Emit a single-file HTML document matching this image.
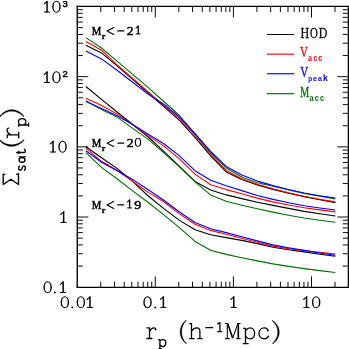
<!DOCTYPE html>
<html><head><meta charset="utf-8"><title>Sigma_sat(r_p)</title>
<style>html,body{margin:0;padding:0;background:#fff;}body{width:349px;height:349px;overflow:hidden;font-family:"Liberation Serif",serif;}svg{display:block;}</style>
</head><body>
<svg width="349" height="349" viewBox="0 0 349 349">
<rect width="349" height="349" fill="#fff"/>
<path d="M77.25 5.83V288.02000000000004M348.4 5.83V288.02000000000004" stroke="#000" stroke-width="1.35" fill="none"/>
<path d="M76.58 6.45H349.04999999999995" stroke="#000" stroke-width="1.25" fill="none"/>
<path d="M76.58 287.35H349.04999999999995" stroke="#000" stroke-width="1.35" fill="none"/>
<path d="M100.71 287.35v-5.6M100.71 6.45v5.6M114.46 287.35v-5.6M114.46 6.45v5.6M124.22 287.35v-5.6M124.22 6.45v5.6M131.79 287.35v-5.6M131.79 6.45v5.6M137.97 287.35v-5.6M137.97 6.45v5.6M143.20 287.35v-5.6M143.20 6.45v5.6M147.73 287.35v-5.6M147.73 6.45v5.6M151.73 287.35v-5.6M151.73 6.45v5.6M155.30 287.35v-11.0M155.30 6.45v11.0M178.81 287.35v-5.6M178.81 6.45v5.6M192.56 287.35v-5.6M192.56 6.45v5.6M202.32 287.35v-5.6M202.32 6.45v5.6M209.89 287.35v-5.6M209.89 6.45v5.6M216.07 287.35v-5.6M216.07 6.45v5.6M221.30 287.35v-5.6M221.30 6.45v5.6M225.83 287.35v-5.6M225.83 6.45v5.6M229.83 287.35v-5.6M229.83 6.45v5.6M233.40 287.35v-11.0M233.40 6.45v11.0M256.91 287.35v-5.6M256.91 6.45v5.6M270.66 287.35v-5.6M270.66 6.45v5.6M280.42 287.35v-5.6M280.42 6.45v5.6M287.99 287.35v-5.6M287.99 6.45v5.6M294.17 287.35v-5.6M294.17 6.45v5.6M299.40 287.35v-5.6M299.40 6.45v5.6M303.93 287.35v-5.6M303.93 6.45v5.6M307.93 287.35v-5.6M307.93 6.45v5.6M311.50 287.35v-11.0M311.50 6.45v11.0M335.01 287.35v-5.6M335.01 6.45v5.6M77.25 266.08h5.6M348.4 266.08h-5.6M77.25 253.72h5.6M348.4 253.72h-5.6M77.25 244.95h5.6M348.4 244.95h-5.6M77.25 238.15h5.6M348.4 238.15h-5.6M77.25 232.59h5.6M348.4 232.59h-5.6M77.25 227.90h5.6M348.4 227.90h-5.6M77.25 223.83h5.6M348.4 223.83h-5.6M77.25 220.24h5.6M348.4 220.24h-5.6M77.25 217.02h11.0M348.4 217.02h-11.0M77.25 195.90h5.6M348.4 195.90h-5.6M77.25 183.54h5.6M348.4 183.54h-5.6M77.25 174.78h5.6M348.4 174.78h-5.6M77.25 167.97h5.6M348.4 167.97h-5.6M77.25 162.42h5.6M348.4 162.42h-5.6M77.25 157.72h5.6M348.4 157.72h-5.6M77.25 153.65h5.6M348.4 153.65h-5.6M77.25 150.06h5.6M348.4 150.06h-5.6M77.25 146.85h11.0M348.4 146.85h-11.0M77.25 125.73h5.6M348.4 125.73h-5.6M77.25 113.37h5.6M348.4 113.37h-5.6M77.25 104.60h5.6M348.4 104.60h-5.6M77.25 97.80h5.6M348.4 97.80h-5.6M77.25 92.24h5.6M348.4 92.24h-5.6M77.25 87.55h5.6M348.4 87.55h-5.6M77.25 83.48h5.6M348.4 83.48h-5.6M77.25 79.89h5.6M348.4 79.89h-5.6M77.25 76.68h11.0M348.4 76.68h-11.0M77.25 55.55h5.6M348.4 55.55h-5.6M77.25 43.19h5.6M348.4 43.19h-5.6M77.25 34.43h5.6M348.4 34.43h-5.6M77.25 27.62h5.6M348.4 27.62h-5.6M77.25 22.07h5.6M348.4 22.07h-5.6M77.25 17.37h5.6M348.4 17.37h-5.6M77.25 13.30h5.6M348.4 13.30h-5.6M77.25 9.71h5.6M348.4 9.71h-5.6" stroke="#000" stroke-width="0.95" fill="none"/>
<polyline points="85.90,45.30 101.49,52.90 117.08,65.80 132.67,79.40 148.26,93.00 163.85,106.60 179.44,120.40 195.03,137.40 210.62,155.90 226.21,171.90 241.80,179.60 257.39,185.00 272.98,189.40 288.57,193.20 304.16,196.70 319.75,199.80 335.34,202.60" fill="none" stroke="#000000" stroke-width="1.1" stroke-linejoin="round"/>
<polyline points="85.90,41.40 101.49,50.20 117.08,64.80 132.67,78.40 148.26,91.90 163.85,105.40 179.44,118.70 195.03,135.20 210.62,153.90 226.21,170.40 241.80,178.80 257.39,184.20 272.98,188.70 288.57,192.70 304.16,196.20 319.75,199.20 335.34,201.90" fill="none" stroke="#ff0000" stroke-width="1.1" stroke-linejoin="round"/>
<polyline points="85.90,37.60 101.49,48.00 117.08,61.10 132.67,74.40 148.26,87.60 163.85,101.50 179.44,115.50 195.03,133.90 210.62,152.40 226.21,167.90 241.80,176.90 257.39,182.70 272.98,186.30 288.57,190.00 304.16,193.40 319.75,196.30 335.34,199.00" fill="none" stroke="#007000" stroke-width="1.1" stroke-linejoin="round"/>
<polyline points="85.90,50.90 101.49,58.90 117.08,70.20 132.67,82.30 148.26,94.40 163.85,104.20 179.44,117.00 195.03,133.60 210.62,151.40 226.21,166.40 241.80,174.90 257.39,181.10 272.98,185.60 288.57,189.50 304.16,193.00 319.75,195.70 335.34,198.10" fill="none" stroke="#0000ff" stroke-width="1.1" stroke-linejoin="round"/>
<polyline points="85.90,86.50 101.49,99.40 117.08,112.00 132.67,124.50 148.26,137.00 163.85,151.40 179.44,166.40 195.03,181.40 210.62,189.90 226.21,194.90 241.80,198.60 257.39,202.30 272.98,205.40 288.57,208.40 304.16,211.40 319.75,213.80 335.34,216.00" fill="none" stroke="#000000" stroke-width="1.1" stroke-linejoin="round"/>
<polyline points="85.90,98.20 101.49,105.40 117.08,113.90 132.67,124.90 148.26,135.60 163.85,146.10 179.44,158.90 195.03,174.10 210.62,184.70 226.21,189.60 241.80,193.70 257.39,198.10 272.98,201.90 288.57,205.00 304.16,207.70 319.75,209.90 335.34,211.90" fill="none" stroke="#ff0000" stroke-width="1.1" stroke-linejoin="round"/>
<polyline points="85.90,100.80 101.49,109.40 117.08,117.10 132.67,128.40 148.26,139.40 163.85,152.90 179.44,166.90 195.03,181.90 210.62,194.90 226.21,201.30 241.80,205.20 257.39,208.70 272.98,212.10 288.57,215.20 304.16,218.00 319.75,220.20 335.34,222.20" fill="none" stroke="#007000" stroke-width="1.1" stroke-linejoin="round"/>
<polyline points="85.90,101.40 101.49,108.60 117.08,115.70 132.67,124.40 148.26,134.30 163.85,143.80 179.44,155.90 195.03,170.70 210.62,180.20 226.21,185.80 241.80,190.60 257.39,195.50 272.98,199.40 288.57,202.70 304.16,205.70 319.75,208.00 335.34,210.00" fill="none" stroke="#0000ff" stroke-width="1.1" stroke-linejoin="round"/>
<polyline points="85.90,146.70 101.49,157.80 117.08,168.40 132.67,181.40 148.26,196.00 163.85,208.60 179.44,220.40 195.03,229.80 210.62,234.70 226.21,237.60 241.80,240.40 257.39,243.60 272.98,247.20 288.57,249.70 304.16,251.90 319.75,254.20 335.34,256.20" fill="none" stroke="#000000" stroke-width="1.1" stroke-linejoin="round"/>
<polyline points="85.90,148.10 101.49,161.30 117.08,170.30 132.67,181.30 148.26,192.40 163.85,201.70 179.44,213.90 195.03,224.30 210.62,230.40 226.21,234.20 241.80,238.20 257.39,242.20 272.98,246.10 288.57,248.60 304.16,250.60 319.75,252.40 335.34,254.10" fill="none" stroke="#ff0000" stroke-width="1.1" stroke-linejoin="round"/>
<polyline points="85.90,152.70 101.49,167.40 117.08,178.80 132.67,190.90 148.26,202.50 163.85,214.90 179.44,227.60 195.03,241.40 210.62,250.20 226.21,254.40 241.80,257.70 257.39,260.90 272.98,263.90 288.57,266.40 304.16,268.60 319.75,270.60 335.34,272.50" fill="none" stroke="#007000" stroke-width="1.1" stroke-linejoin="round"/>
<polyline points="85.90,150.70 101.49,162.20 117.08,170.70 132.67,179.40 148.26,189.70 163.85,200.30 179.44,212.00 195.03,222.50 210.62,228.70 226.21,232.60 241.80,236.70 257.39,240.90 272.98,244.90 288.57,247.80 304.16,250.40 319.75,253.00 335.34,255.30" fill="none" stroke="#0000ff" stroke-width="1.1" stroke-linejoin="round"/>
<path d="M267 34.5H294.1" stroke="#000000" stroke-width="1.0"/>
<path d="M267 54.2H294.1" stroke="#ff0000" stroke-width="1.1"/>
<path d="M267 73.75H294.1" stroke="#0000ff" stroke-width="1.15"/>
<path d="M267 93.7H294.1" stroke="#007000" stroke-width="1.2"/>
<g opacity="0.999">
<path d="M47.05 1.00V12.40" fill="none" stroke="#000" stroke-width="1.50"/><path d="M44.30 3.90L47.15 1.50" fill="none" stroke="#000" stroke-width="1.15" stroke-linecap="round"/><path d="M44.35 12.00H49.65" fill="none" stroke="#000" stroke-width="1.0" stroke-linecap="round"/>
<path fill-rule="evenodd" fill="#000" d="M52.20 6.80A4.25 6.05 0 1 0 60.70 6.80A4.25 6.05 0 1 0 52.20 6.80ZM53.60 6.80A2.85 5.05 0 1 0 59.30 6.80A2.85 5.05 0 1 0 53.60 6.80Z"/>
<path d="M47.05 71.50V82.90" fill="none" stroke="#000" stroke-width="1.50"/><path d="M44.30 74.40L47.15 72.00" fill="none" stroke="#000" stroke-width="1.15" stroke-linecap="round"/><path d="M44.35 82.50H49.65" fill="none" stroke="#000" stroke-width="1.0" stroke-linecap="round"/>
<path fill-rule="evenodd" fill="#000" d="M52.20 77.30A4.25 6.05 0 1 0 60.70 77.30A4.25 6.05 0 1 0 52.20 77.30ZM53.60 77.30A2.85 5.05 0 1 0 59.30 77.30A2.85 5.05 0 1 0 53.60 77.30Z"/>
<text transform="matrix(0.0955,0,0,0.0947,62.600,7.205)" font-family="Liberation Sans" font-weight="normal" font-size="100" fill="#000" stroke="#000" stroke-width="5.26">3</text>
<text transform="matrix(0.0955,0,0,0.0961,62.600,77.200)" font-family="Liberation Sans" font-weight="normal" font-size="100" fill="#000" stroke="#000" stroke-width="5.22">2</text>
<path d="M53.05 141.00V152.40" fill="none" stroke="#000" stroke-width="1.50"/><path d="M50.30 143.90L53.15 141.50" fill="none" stroke="#000" stroke-width="1.15" stroke-linecap="round"/><path d="M50.35 152.00H55.65" fill="none" stroke="#000" stroke-width="1.0" stroke-linecap="round"/>
<path fill-rule="evenodd" fill="#000" d="M58.30 146.80A4.25 6.05 0 1 0 66.80 146.80A4.25 6.05 0 1 0 58.30 146.80ZM59.70 146.80A2.85 5.05 0 1 0 65.40 146.80A2.85 5.05 0 1 0 59.70 146.80Z"/>
<path d="M63.65 211.40V222.80" fill="none" stroke="#000" stroke-width="1.50"/><path d="M60.90 214.30L63.75 211.90" fill="none" stroke="#000" stroke-width="1.15" stroke-linecap="round"/><path d="M60.95 222.40H66.25" fill="none" stroke="#000" stroke-width="1.0" stroke-linecap="round"/>
<path fill-rule="evenodd" fill="#000" d="M43.40 287.30A4.25 6.05 0 1 0 51.90 287.30A4.25 6.05 0 1 0 43.40 287.30ZM44.80 287.30A2.85 5.05 0 1 0 50.50 287.30A2.85 5.05 0 1 0 44.80 287.30Z"/>
<circle cx="54.9" cy="292.50" r="0.95" fill="#000"/>
<path d="M63.15 281.50V292.90" fill="none" stroke="#000" stroke-width="1.50"/><path d="M60.40 284.40L63.25 282.00" fill="none" stroke="#000" stroke-width="1.15" stroke-linecap="round"/><path d="M60.45 292.50H65.75" fill="none" stroke="#000" stroke-width="1.0" stroke-linecap="round"/>
<path fill-rule="evenodd" fill="#000" d="M60.60 302.20A4.25 6.05 0 1 0 69.10 302.20A4.25 6.05 0 1 0 60.60 302.20ZM62.00 302.20A2.85 5.05 0 1 0 67.70 302.20A2.85 5.05 0 1 0 62.00 302.20Z"/>
<circle cx="72.3" cy="307.40" r="0.95" fill="#000"/>
<path fill-rule="evenodd" fill="#000" d="M76.60 302.20A4.25 6.05 0 1 0 85.10 302.20A4.25 6.05 0 1 0 76.60 302.20ZM78.00 302.20A2.85 5.05 0 1 0 83.70 302.20A2.85 5.05 0 1 0 78.00 302.20Z"/>
<path d="M89.95 296.40V307.80" fill="none" stroke="#000" stroke-width="1.50"/><path d="M87.20 299.30L90.05 296.90" fill="none" stroke="#000" stroke-width="1.15" stroke-linecap="round"/><path d="M87.25 307.40H92.55" fill="none" stroke="#000" stroke-width="1.0" stroke-linecap="round"/>
<path fill-rule="evenodd" fill="#000" d="M143.30 302.20A4.25 6.05 0 1 0 151.80 302.20A4.25 6.05 0 1 0 143.30 302.20ZM144.70 302.20A2.85 5.05 0 1 0 150.40 302.20A2.85 5.05 0 1 0 144.70 302.20Z"/>
<circle cx="155.25" cy="307.40" r="0.95" fill="#000"/>
<path d="M163.35 296.40V307.80" fill="none" stroke="#000" stroke-width="1.50"/><path d="M160.60 299.30L163.45 296.90" fill="none" stroke="#000" stroke-width="1.15" stroke-linecap="round"/><path d="M160.65 307.40H165.95" fill="none" stroke="#000" stroke-width="1.0" stroke-linecap="round"/>
<path d="M233.75 296.40V307.80" fill="none" stroke="#000" stroke-width="1.50"/><path d="M231.00 299.30L233.85 296.90" fill="none" stroke="#000" stroke-width="1.15" stroke-linecap="round"/><path d="M231.05 307.40H236.35" fill="none" stroke="#000" stroke-width="1.0" stroke-linecap="round"/>
<path d="M306.55 296.40V307.80" fill="none" stroke="#000" stroke-width="1.50"/><path d="M303.80 299.30L306.65 296.90" fill="none" stroke="#000" stroke-width="1.15" stroke-linecap="round"/><path d="M303.85 307.40H309.15" fill="none" stroke="#000" stroke-width="1.0" stroke-linecap="round"/>
<path fill-rule="evenodd" fill="#000" d="M311.90 302.20A4.25 6.05 0 1 0 320.40 302.20A4.25 6.05 0 1 0 311.90 302.20ZM313.30 302.20A2.85 5.05 0 1 0 319.00 302.20A2.85 5.05 0 1 0 313.30 302.20Z"/>
<path d="M146.4 327.9H149.5V338.5M146.4 338.5H152.4M149.6 331.4C150.5 329.4 152.4 327.7 154.1 327.8C155.3 327.9 155.9 328.7 155.7 329.6" fill="none" stroke="#000" stroke-width="1.3" stroke-linecap="butt" stroke-linejoin="round"/>
<path d="M158.2 339.7H159.9V349M158.2 349H162M160 341.2C161 339.9 162.4 339.4 163.5 339.6C165.1 339.9 165.8 341.5 165.8 343C165.8 344.6 165 346.2 163.4 346.5C162 346.7 160.8 346 160 345" fill="none" stroke="#000" stroke-width="1.3" stroke-linecap="butt" stroke-linejoin="round"/>
<path d="M189.2 323.6H191.5V338.6M189.1 338.6H194.5M191.6 331.3C192.8 329.2 194.8 327.9 196.6 327.9C198.8 327.9 199.9 329.2 199.9 331.4V338.6M197.4 338.6H202.7" fill="none" stroke="#000" stroke-width="1.3" stroke-linecap="butt" stroke-linejoin="round"/>
<path d="M205.4 327.6H213.1" fill="none" stroke="#000" stroke-width="1.3" stroke-linecap="butt" stroke-linejoin="round"/>
<path d="M217.2 324.3L219.9 322.6V331.6M217.2 331.6H222.2" fill="none" stroke="#000" stroke-width="1.3" stroke-linecap="butt" stroke-linejoin="round"/>
<path d="M243.2 328.4H245.5V343.6M242.9 343.6H248.6M245.6 330.6C246.8 328.9 248.5 327.9 250.2 327.9C252.8 327.9 254.6 330.2 254.6 333.3C254.6 336.5 252.8 338.8 250.2 338.8C248.4 338.8 246.8 337.8 245.6 336.4" fill="none" stroke="#000" stroke-width="1.3" stroke-linecap="butt" stroke-linejoin="round"/>
<path d="M268.2 330.9C267.8 329 266.2 327.9 264.3 327.9C261.3 327.9 259 330.2 259 333.3C259 336.5 261.2 338.8 264.2 338.8C266.3 338.8 267.9 337.6 268.7 335.8" fill="none" stroke="#000" stroke-width="1.3" stroke-linecap="butt" stroke-linejoin="round"/>
<path d="M185.9 320.0C182.0 323.3 180.0 327.5 180.0 331.9C180.0 336.4 182.0 340.6 186.1 343.9L186.6 343.3C183.3 340.2 181.7 336.3 181.7 331.9C181.7 327.5 183.3 323.6 186.4 320.6Z" fill="#000" stroke="#000" stroke-width="0.25" stroke-linejoin="round"/>
<path d="M272.5 320.2C276.9 323.4 279.4 327.6 279.4 332.1C279.4 336.6 277.2 340.8 272.9 344.0L272.4 343.4C275.9 340.3 277.7 336.4 277.7 332.1C277.7 327.8 275.8 323.8 272.0 320.8Z" fill="#000" stroke="#000" stroke-width="0.25" stroke-linejoin="round"/>
<path d="M227.3 323.4V338.6M232.7 338.2L237.9 323.4M225 323.4H227.8M237.6 323.4H240.5M225 338.6H229.7M236.2 338.6H240.5" fill="none" stroke="#000" stroke-width="1.05" stroke-linecap="butt" stroke-linejoin="round"/>
<path d="M227.7 323.4L232.7 338.2" fill="none" stroke="#000" stroke-width="1.6" stroke-linecap="butt" stroke-linejoin="round"/>
<path d="M238.3 323.4V338.6" fill="none" stroke="#000" stroke-width="1.65" stroke-linecap="butt" stroke-linejoin="round"/>
<circle cx="267.7" cy="330.6" r="0.9" fill="#000"/><circle cx="155.5" cy="329.5" r="0.9" fill="#000"/>
<path d="M5.3 174.7L3.2 174.2V184.5L10.9 179.2L18.5 184.5V173.5L16.3 174.6" fill="none" stroke="#000" stroke-width="1.35" stroke-linecap="butt" stroke-linejoin="round"/>
<path d="M5.0 -5.5C4.6 -6.6 3.7 -6.9 2.7 -6.9C1.4 -6.9 0.6 -6.2 0.6 -5.2C0.6 -4.1 1.6 -3.8 2.8 -3.5C4.0 -3.2 5.0 -2.8 5.0 -1.8C5.0 -0.8 4.1 -0.2 2.8 -0.2C1.6 -0.2 0.7 -0.7 0.4 -1.7" transform="matrix(0,-1,1,0,25.6,170.9)" fill="none" stroke="#000" stroke-width="1.4" stroke-linecap="butt" stroke-linejoin="round"/>
<path d="M5.9 -6.9V-0.9C5.9 -0.4 6.2 -0.2 6.6 -0.4" transform="matrix(0,-1,1,0,25.6,162.8)" fill="none" stroke="#000" stroke-width="1.4" stroke-linecap="butt" stroke-linejoin="round"/>
<ellipse cx="22.05" cy="159.9" rx="2.95" ry="2.35" fill="none" stroke="#000" stroke-width="1.4"/>
<path d="M0.1 -6.8H3.4M1.75 -9.5V-1.4C1.75 -0.2 2.9 0.1 3.8 -0.4C4.4 -0.7 4.8 -1.2 4.9 -1.7" transform="matrix(0,-1,1,0,25.6,154.2)" fill="none" stroke="#000" stroke-width="1.4" stroke-linecap="butt" stroke-linejoin="round"/>
<path d="M185.9 320.0C182.0 323.3 180.0 327.5 180.0 331.9C180.0 336.4 182.0 340.6 186.1 343.9L186.6 343.3C183.3 340.2 181.7 336.3 181.7 331.9C181.7 327.5 183.3 323.6 186.4 320.6Z" transform="matrix(0,-1.04,1.04,0,-333.376,333.632)" fill="#000" stroke="#000" stroke-width="0.25" stroke-linejoin="round"/>
<path d="M146.4 327.9H149.5V338.5M146.4 338.5H152.4M149.6 331.4C150.5 329.4 152.4 327.7 154.1 327.8C155.3 327.9 155.9 328.7 155.7 329.6M155.5 329.5h0.01" transform="matrix(0,-1.08,1.08,0,-346.880,296.360)" fill="none" stroke="#000" stroke-width="1.2" stroke-linecap="butt" stroke-linejoin="round"/>
<path d="M158.2 339.7H159.9V349M158.2 349H162M160 341.2C161 339.9 162.4 339.4 163.5 339.6C165.1 339.9 165.8 341.5 165.8 343C165.8 344.6 165 346.2 163.4 346.5C162 346.7 160.8 346 160 345" transform="matrix(0,-1.08,1.08,0,-348.336,297.692)" fill="none" stroke="#000" stroke-width="1.2" stroke-linecap="butt" stroke-linejoin="round"/>
<path d="M272.5 320.2C276.9 323.4 279.4 327.6 279.4 332.1C279.4 336.6 277.2 340.8 272.9 344.0L272.4 343.4C275.9 340.3 277.7 336.4 277.7 332.1C277.7 327.8 275.8 323.8 272.0 320.8Z" transform="matrix(0,-1.04,1.04,0,-333.684,400.144)" fill="#000" stroke="#000" stroke-width="0.25" stroke-linejoin="round"/>
<text transform="matrix(0.1079,0,0,0.1313,91.800,34.600)" font-family="Liberation Serif" font-weight="normal" font-size="100" fill="#000" stroke="#000" stroke-width="4.20">M</text>
<text transform="matrix(0.0831,0,0,0.0910,101.700,38.600)" font-family="Liberation Serif" font-weight="bold" font-size="100" fill="#000" stroke="#000" stroke-width="3.45">r</text>
<path d="M113.7 27.50L107.1 30.95L113.7 34.40" fill="none" stroke="#000" stroke-width="1.1" stroke-linecap="round" stroke-linejoin="round"/>
<path d="M117.7 30.90H123.9" fill="none" stroke="#000" stroke-width="1.1" stroke-linecap="round" stroke-linejoin="round"/>
<text transform="matrix(0.1360,0,0,0.1313,126.700,34.600)" font-family="Liberation Serif" font-weight="normal" font-size="100" fill="#000" stroke="#000" stroke-width="3.74">2</text>
<path d="M138.22 25.64V34.30" fill="none" stroke="#000" stroke-width="1.34"/><path d="M136.13 27.84L138.32 26.02" fill="none" stroke="#000" stroke-width="1.15" stroke-linecap="round"/><path d="M136.17 33.90H140.19" fill="none" stroke="#000" stroke-width="1.0" stroke-linecap="round"/>
<text transform="matrix(0.1079,0,0,0.1313,91.800,146.800)" font-family="Liberation Serif" font-weight="normal" font-size="100" fill="#000" stroke="#000" stroke-width="4.20">M</text>
<text transform="matrix(0.0831,0,0,0.0910,101.700,150.800)" font-family="Liberation Serif" font-weight="bold" font-size="100" fill="#000" stroke="#000" stroke-width="3.45">r</text>
<path d="M113.7 139.70L107.1 143.15L113.7 146.60" fill="none" stroke="#000" stroke-width="1.1" stroke-linecap="round" stroke-linejoin="round"/>
<path d="M117.7 143.10H123.9" fill="none" stroke="#000" stroke-width="1.1" stroke-linecap="round" stroke-linejoin="round"/>
<text transform="matrix(0.1360,0,0,0.1313,126.700,146.800)" font-family="Liberation Serif" font-weight="normal" font-size="100" fill="#000" stroke="#000" stroke-width="3.74">2</text>
<path fill-rule="evenodd" fill="#000" d="M134.75 142.24A3.23 4.60 0 1 0 141.21 142.24A3.23 4.60 0 1 0 134.75 142.24ZM136.02 142.24A1.96 3.66 0 1 0 139.95 142.24A1.96 3.66 0 1 0 136.02 142.24Z"/>
<text transform="matrix(0.1079,0,0,0.1313,91.800,208.600)" font-family="Liberation Serif" font-weight="normal" font-size="100" fill="#000" stroke="#000" stroke-width="4.20">M</text>
<text transform="matrix(0.0831,0,0,0.0910,101.700,212.600)" font-family="Liberation Serif" font-weight="bold" font-size="100" fill="#000" stroke="#000" stroke-width="3.45">r</text>
<path d="M113.7 201.50L107.1 204.95L113.7 208.40" fill="none" stroke="#000" stroke-width="1.1" stroke-linecap="round" stroke-linejoin="round"/>
<path d="M117.7 204.90H123.9" fill="none" stroke="#000" stroke-width="1.1" stroke-linecap="round" stroke-linejoin="round"/>
<path d="M129.62 199.64V208.30" fill="none" stroke="#000" stroke-width="1.34"/><path d="M127.53 201.84L129.72 200.02" fill="none" stroke="#000" stroke-width="1.15" stroke-linecap="round"/><path d="M127.57 207.90H131.59" fill="none" stroke="#000" stroke-width="1.0" stroke-linecap="round"/>
<text transform="matrix(0.1420,0,0,0.1309,134.200,208.569)" font-family="Liberation Serif" font-weight="normal" font-size="100" fill="#000" stroke="#000" stroke-width="3.67">9</text>
<text transform="matrix(0.1204,0,0,0.1496,300.500,37.800)" font-family="Liberation Serif" font-weight="normal" font-size="100" fill="#000" stroke="#000" stroke-width="1.86">H</text>
<text transform="matrix(0.1080,0,0,0.1517,310.000,37.848)" font-family="Liberation Serif" font-weight="normal" font-size="100" fill="#000" stroke="#000" stroke-width="1.95">O</text>
<text transform="matrix(0.1176,0,0,0.1490,318.700,37.763)" font-family="Liberation Serif" font-weight="normal" font-size="100" fill="#000" stroke="#000" stroke-width="1.89">D</text>
<text transform="matrix(0.1107,0,0,0.1433,300.000,57.385)" font-family="Liberation Serif" font-weight="normal" font-size="100" fill="#ff0000" stroke="#ff0000" stroke-width="1.98">V</text>
<text transform="matrix(0.0711,0,0,0.0858,308.100,61.414)" font-family="Liberation Sans" font-weight="bold" font-size="100" fill="#ff0000">a</text>
<text transform="matrix(0.0721,0,0,0.0858,313.200,61.414)" font-family="Liberation Sans" font-weight="bold" font-size="100" fill="#ff0000">c</text>
<text transform="matrix(0.0739,0,0,0.0858,318.300,61.414)" font-family="Liberation Sans" font-weight="bold" font-size="100" fill="#ff0000">c</text>
<text transform="matrix(0.1107,0,0,0.1463,300.300,77.181)" font-family="Liberation Serif" font-weight="normal" font-size="100" fill="#0000ff" stroke="#0000ff" stroke-width="1.96">V</text>
<text transform="matrix(0.0639,0,0,0.0789,308.200,80.762)" font-family="Liberation Sans" font-weight="bold" font-size="100" fill="#0000ff">p</text>
<text transform="matrix(0.0739,0,0,0.0804,313.000,80.820)" font-family="Liberation Sans" font-weight="bold" font-size="100" fill="#0000ff">e</text>
<text transform="matrix(0.0711,0,0,0.0804,318.000,80.820)" font-family="Liberation Sans" font-weight="bold" font-size="100" fill="#0000ff">a</text>
<text transform="matrix(0.0861,0,0,0.0883,323.100,80.800)" font-family="Liberation Sans" font-weight="bold" font-size="100" fill="#0000ff">k</text>
<text transform="matrix(0.1011,0,0,0.1466,300.300,97.000)" font-family="Liberation Serif" font-weight="normal" font-size="100" fill="#007000" stroke="#007000" stroke-width="2.05">M</text>
<text transform="matrix(0.0729,0,0,0.0877,309.600,100.712)" font-family="Liberation Sans" font-weight="bold" font-size="100" fill="#007000">a</text>
<text transform="matrix(0.0739,0,0,0.0877,314.800,100.712)" font-family="Liberation Sans" font-weight="bold" font-size="100" fill="#007000">c</text>
<text transform="matrix(0.0739,0,0,0.0877,320.000,100.712)" font-family="Liberation Sans" font-weight="bold" font-size="100" fill="#007000">c</text>
</g>
</svg>
</body></html>
